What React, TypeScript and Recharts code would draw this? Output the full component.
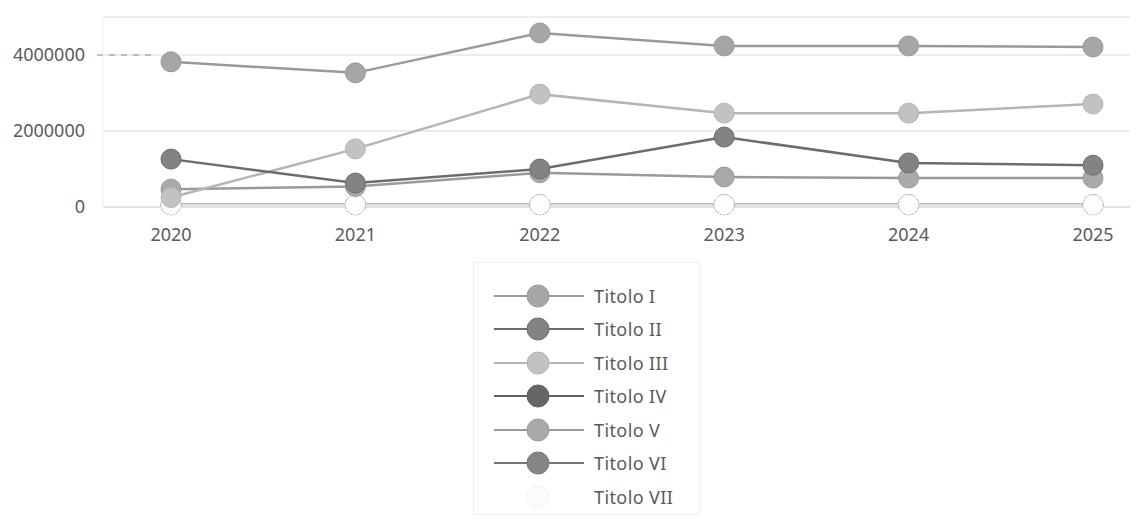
import React from 'react'
import {
  LineChart,
  Line,
  XAxis,
  YAxis,
  CartesianGrid,
  Legend,
  ReferenceLine,
} from 'recharts'

const years = ['2020', '2021', '2022', '2023', '2024', '2025']

const titolo1 = [3820000, 3530000, 4580000, 4240000, 4240000, 4210000]
const titolo2 = [1260000, 630000, 1000000, 1840000, 1160000, 1100000]
const titolo3 = [250000, 1530000, 2970000, 2470000, 2470000, 2710000]
const titolo4 = [60000, 60000, 60000, 60000, 60000, 60000]
const titolo5 = [470000, 540000, 900000, 790000, 760000, 760000]
const titolo6 = [60000, 60000, 60000, 60000, 60000, 60000]
const titolo7 = [60000, 60000, 60000, 60000, 60000, 60000]

const yTicks = [0, 2000000, 4000000]

// drawing order: the near-zero series first so Titolo VII sits on top of them
const series = [
  { key: 'titolo4', name: 'Titolo IV', values: titolo4, line: '#5e5e5e', fill: '#666666' },
  { key: 'titolo6', name: 'Titolo VI', values: titolo6, line: '#767676', fill: '#858585' },
  { key: 'titolo7', name: 'Titolo VII', values: titolo7, line: '#e0e0e0', fill: '#fdfdfd' },
  { key: 'titolo5', name: 'Titolo V', values: titolo5, line: '#9a9a9a', fill: '#a9a9a9' },
  { key: 'titolo3', name: 'Titolo III', values: titolo3, line: '#b5b5b5', fill: '#c2c2c2' },
  { key: 'titolo2', name: 'Titolo II', values: titolo2, line: '#6c6c6c', fill: '#838383' },
  { key: 'titolo1', name: 'Titolo I', values: titolo1, line: '#999999', fill: '#a6a6a6' },
]

const legendOrder = ['titolo1', 'titolo2', 'titolo3', 'titolo4', 'titolo5', 'titolo6', 'titolo7']

const data = years.map((year, i) => {
  const row: Record<string, string | number> = { year }
  series.forEach((s) => {
    row[s.key] = s.values[i]
  })
  return row
})

const font = '"Noto Sans", sans-serif'
const textColor = '#5a5a5a'

function YTick(props: any) {
  const { x, y, payload } = props
  return (
    <g>
      {payload.value === 4000000 && (
        <line x1={x + 12} x2={x + 66} y1={y} y2={y} stroke="#8a8a8a" strokeDasharray="6 6" />
      )}
      <text x={x} y={y} dy="0.35em" textAnchor="end" fill={textColor} fontSize={18} fontFamily={font}>
        {payload.value}
      </text>
    </g>
  )
}

function LegendBox() {
  const items = legendOrder.map((k) => series.find((s) => s.key === k)!)
  return (
    <div
      style={{
        width: 227,
        height: 253,
        boxSizing: 'border-box',
        border: '1px solid #f0f0f0',
        paddingTop: 16,
        fontFamily: font,
      }}
    >
      {items.map((s) => {
        const last = s.key === 'titolo7'
        return (
          <div key={s.key} style={{ height: 33.5, display: 'flex', alignItems: 'center' }}>
            <svg width={120} height={30} style={{ flex: 'none' }}>
              {!last && <line x1={20} x2={110} y1={15} y2={15} stroke={s.line} strokeWidth={2} />}
              <circle
                cx={64}
                cy={15}
                r={11}
                fill={last ? '#fbfbfb' : s.fill}
                stroke={last ? '#f3f3f3' : s.line}
              />
            </svg>
            <span style={{ fontSize: 18, color: textColor, letterSpacing: 0.4 }}>{s.name}</span>
          </div>
        )
      })}
    </div>
  )
}

export default function App() {
  return (
    <div style={{ position: 'absolute', left: 0, top: 0, background: '#fff' }}>
      <LineChart
        width={1148}
        height={526}
        data={data}
        margin={{ top: 17, right: 18, left: 0, bottom: 36 }}
      >
        <CartesianGrid vertical={false} stroke="#ececec" strokeWidth={2} />
        <ReferenceLine y={5000000} stroke="#eeeeee" strokeWidth={2} />
        <XAxis
          dataKey="year"
          height={30}
          padding={{ left: 68, right: 37 }}
          axisLine={{ stroke: '#e2e2e2', strokeWidth: 2 }}
          tickLine={false}
          tickMargin={15}
          tick={{ fill: textColor, fontSize: 18, fontFamily: font }}
        />
        <YAxis
          width={103}
          domain={[0, 5000000]}
          ticks={yTicks}
          axisLine={{ stroke: '#f6f6f6', strokeWidth: 2 }}
          tickLine={false}
          tickMargin={12}
          tick={<YTick />}
        />
        <Legend
          verticalAlign="bottom"
          align="center"
          layout="vertical"
          wrapperStyle={{ left: 473, top: 262, width: 227, height: 253 }}
          content={() => <LegendBox />}
        />
        {series.map((s) => (
          <Line
            key={s.key}
            dataKey={s.key}
            name={s.name}
            stroke={s.line}
            strokeWidth={2.5}
            dot={
              s.key === 'titolo7'
                ? { r: 10, fill: '#fdfdfd', stroke: '#ececec', strokeWidth: 1 }
                : { r: 10, fill: s.fill, stroke: s.line, strokeWidth: 1 }
            }
            activeDot={false}
            isAnimationActive={false}
          />
        ))}
      </LineChart>
    </div>
  )
}
